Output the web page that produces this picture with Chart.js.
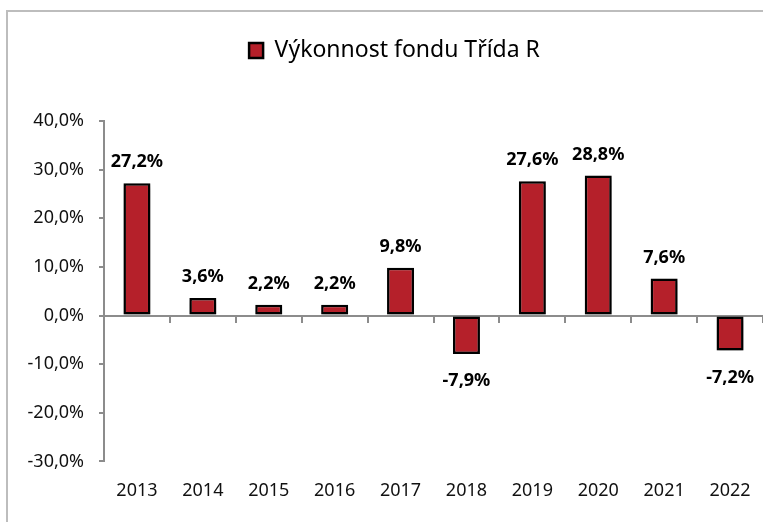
<!DOCTYPE html>
<html>
<head>
<meta charset="utf-8">
<script src="https://cdn.jsdelivr.net/npm/chart.js@4.4.0/dist/chart.umd.min.js"></script>
<style>
  body { margin: 0; background: #fff; }
  #frame {
    position: absolute; left: 6px; top: 10px;
    width: 755px; height: 510px;
    border-left: 2px solid #bdbdbd; border-top: 2px solid #bdbdbd;
  }
</style>
</head>
<body>
<div id="frame"><canvas id="myChart" width="755" height="510"></canvas></div>
<script>
const years = ['2013', '2014', '2015', '2016', '2017', '2018', '2019', '2020', '2021', '2022'];
const performance = [27.2, 3.6, 2.2, 2.2, 9.8, -7.9, 27.6, 28.8, 7.6, -7.2];
const seriesName = 'Výkonnost fondu Třída R';
const yMin = -30, yMax = 40, yStep = 10;

const FONT = '"Noto Sans", sans-serif';

function pct(v, digits) {
  return v.toFixed(digits).replace('.', ',') + '%';
}

// soft shadow under the bars
const barShadow = {
  id: 'barShadow',
  beforeDatasetsDraw(chart) {
    const ctx = chart.ctx;
    ctx.save();
    ctx.shadowColor = 'rgba(0,0,0,0.35)';
    ctx.shadowBlur = 4;
    ctx.shadowOffsetX = 1;
    ctx.shadowOffsetY = 3;
  },
  afterDatasetsDraw(chart) {
    chart.ctx.restore();
  }
};

// value labels above / below each bar
const valueLabels = {
  id: 'valueLabels',
  afterDatasetsDraw(chart) {
    const ctx = chart.ctx;
    const meta = chart.getDatasetMeta(0);
    ctx.save();
    ctx.font = 'bold 18px ' + FONT;
    ctx.fillStyle = '#000';
    ctx.textAlign = 'center';
    ctx.textBaseline = 'middle';
    meta.data.forEach((bar, i) => {
      const v = performance[i];
      const y = v >= 0 ? Math.min(bar.y, bar.base) - 21 : Math.max(bar.y, bar.base) + 27;
      ctx.fillText(pct(v, 1), bar.x, y);
    });
    ctx.restore();
  }
};

function noPad(s) { s.paddingLeft = 0; s.paddingRight = 0; }

const config = {
  type: 'bar',
  data: {
    labels: years,
    datasets: [{
      label: seriesName,
      data: performance,
      backgroundColor: '#b5202a',
      borderColor: '#000',
      borderWidth: 2.5,
      borderSkipped: false,
      categoryPercentage: 1,
      barPercentage: 0.41,
      xAxisID: 'x',
      yAxisID: 'y',
    }]
  },
  options: {
    responsive: false,
    animation: false,
    // left padding only nudges the legend to the right; the y axis width compensates
    layout: { padding: { left: 18, right: 0, top: 10, bottom: 1 } },
    plugins: {
      legend: {
        position: 'top',
        labels: {
          boxWidth: 14,
          boxHeight: 15,
          padding: 17,
          color: '#000',
          font: { family: FONT, size: 23 },
        }
      },
      tooltip: { enabled: false },
    },
    scales: {
      // empty strip between legend and plot
      gap: {
        type: 'linear',
        axis: 'x',
        position: 'top',
        min: 0,
        max: 1,
        grid: { display: false, drawTicks: false },
        border: { display: false },
        ticks: { display: false },
        afterFit(s) { s.height = 49; noPad(s); },
      },
      x: {
        type: 'category',
        position: { y: 0 },
        offset: true,
        grid: {
          offset: true,
          drawOnChartArea: false,
          drawTicks: true,
          tickLength: 6,
          color: '#8c8c8c',
          lineWidth: 2,
        },
        border: { display: true, color: '#8c8c8c', width: 2 },
        ticks: { display: false },
        afterFit(s) { s.height = 0; noPad(s); },
      },
      x2: {
        type: 'category',
        labels: years,
        position: 'bottom',
        offset: true,
        grid: { display: false, drawTicks: false },
        border: { display: false },
        ticks: {
          padding: 19,
          color: '#111',
          font: { family: FONT, size: 18 },
        },
        afterFit(s) { noPad(s); },
      },
      y: {
        min: yMin,
        max: yMax,
        grid: {
          drawOnChartArea: false,
          drawTicks: true,
          tickLength: 5,
          color: '#8c8c8c',
          lineWidth: 2,
        },
        border: { color: '#8c8c8c', width: 2 },
        ticks: {
          stepSize: yStep,
          padding: 15,
          color: '#111',
          font: { family: FONT, size: 18 },
          callback: v => pct(v, 1),
        },
        afterFit(scale) { scale.width = 78; },
      }
    }
  },
  plugins: [barShadow, valueLabels]
};

const myChart = new Chart(document.getElementById('myChart').getContext('2d'), config);
</script>
</body>
</html>
